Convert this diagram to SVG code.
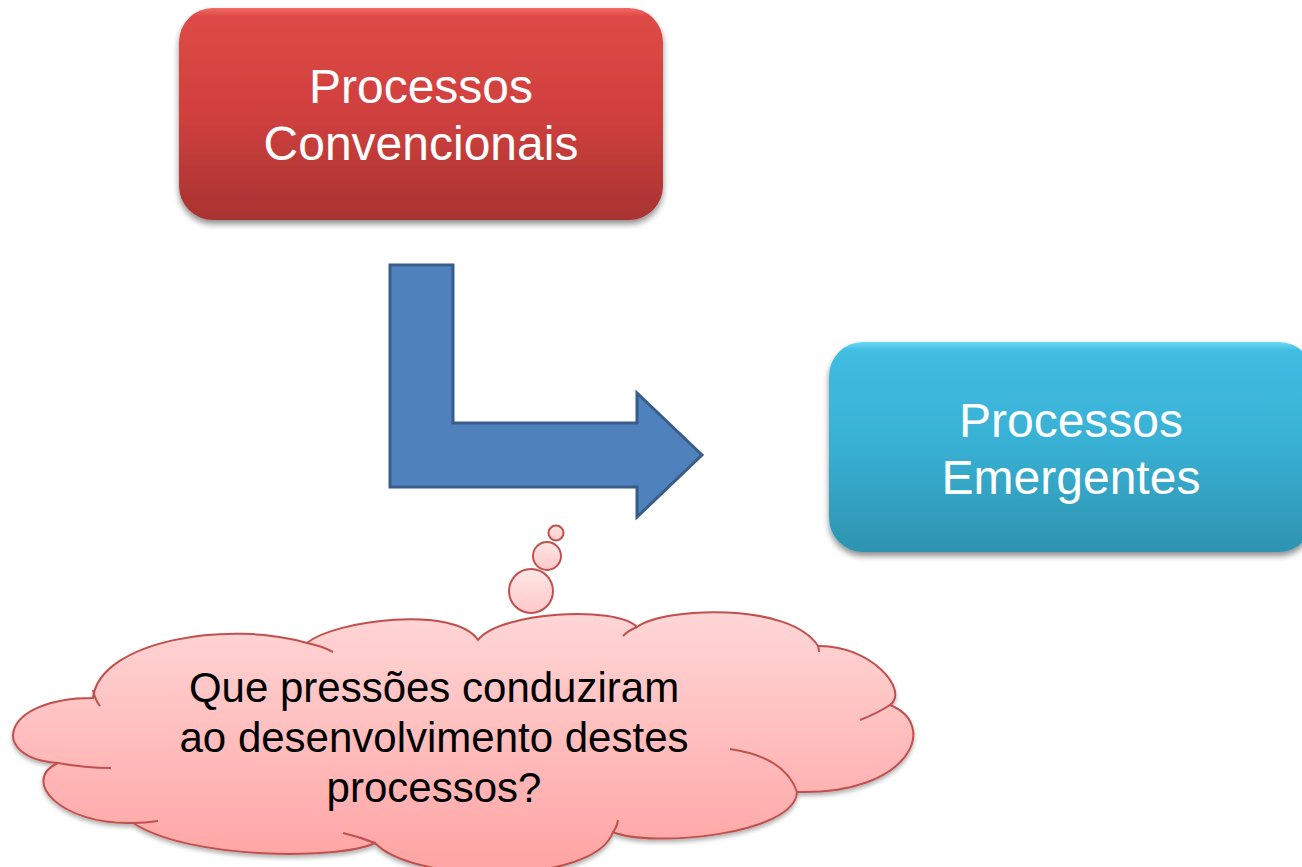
<svg xmlns="http://www.w3.org/2000/svg" width="1302" height="867" viewBox="0 0 1302 867">
<defs>
<linearGradient id="gRed" x1="0" y1="0" x2="0" y2="1">
<stop offset="0" stop-color="#f06a64"/>
<stop offset="0.04" stop-color="#de4a46"/>
<stop offset="0.5" stop-color="#d0403e"/>
<stop offset="1" stop-color="#a83331"/>
</linearGradient>
<linearGradient id="gCyan" x1="0" y1="0" x2="0" y2="1">
<stop offset="0" stop-color="#6ad8f5"/>
<stop offset="0.04" stop-color="#40bde2"/>
<stop offset="0.5" stop-color="#38b0d3"/>
<stop offset="1" stop-color="#2e93b0"/>
</linearGradient>
<linearGradient id="gPink" x1="0" y1="0" x2="0" y2="1">
<stop offset="0" stop-color="#ffd6d6"/>
<stop offset="1" stop-color="#ffa3a3"/>
</linearGradient>
<linearGradient id="gBub" x1="0" y1="0" x2="0" y2="1">
<stop offset="0" stop-color="#ffe6e6"/>
<stop offset="1" stop-color="#ffc8c8"/>
</linearGradient>
<filter id="sh" x="-10%" y="-10%" width="120%" height="130%">
<feGaussianBlur in="SourceAlpha" stdDeviation="3"/>
<feOffset dx="0" dy="4" result="b"/>
<feComponentTransfer><feFuncA type="linear" slope="0.45"/></feComponentTransfer>
<feMerge><feMergeNode/><feMergeNode in="SourceGraphic"/></feMerge>
</filter>
<filter id="sh2" x="-10%" y="-10%" width="120%" height="130%">
<feGaussianBlur in="SourceAlpha" stdDeviation="2"/>
<feOffset dx="0" dy="3" result="b"/>
<feComponentTransfer><feFuncA type="linear" slope="0.3"/></feComponentTransfer>
<feMerge><feMergeNode/><feMergeNode in="SourceGraphic"/></feMerge>
</filter>
</defs>
<style>
.box{font-family:"Liberation Sans",Arial,sans-serif;font-size:48px;fill:#ffffff;text-anchor:middle}
.ct{font-family:"Liberation Sans",Arial,sans-serif;font-size:42px;fill:#000000;text-anchor:middle}
.cl{stroke:#c0504d;stroke-width:2;fill:none}
</style>
<rect width="1302" height="867" fill="#ffffff"/>

<g id="convencionais">
<rect x="179" y="8" width="484" height="212" rx="34" fill="url(#gRed)" filter="url(#sh)"/>
<text class="box" x="421" y="103">Processos</text>
<text class="box" x="421" y="160">Convencionais</text>
</g>

<g id="emergentes">
<rect x="829" y="342" width="484" height="210" rx="34" fill="url(#gCyan)" filter="url(#sh)"/>
<text class="box" x="1071" y="437">Processos</text>
<text class="box" x="1071" y="494">Emergentes</text>
</g>

<g id="connectors">
<path d="M390,265 L453,265 L453,423 L637,423 L637,393 L702,455 L637,517 L637,487 L390,487 Z" fill="#4f81bd" stroke="#385d8a" stroke-width="3"/>
</g>

<g id="cloud">
<path filter="url(#sh2)" fill="url(#gPink)" stroke="#c0504d" stroke-width="2" d="M93,698 C100,640 230,620 307,643 C335,620 455,605 478,640 C500,612 615,605 637,627 C665,607 790,602 818,646 C870,645 910,690 890,705 C940,725 910,795 797,792 C795,835 650,848 613,832 C595,885 415,885 375,843 C340,860 190,860 133,823 C60,825 20,780 58,763 C-12,758 0,698 93,698 Z"/>
<path class="cl" d="M93,690 Q95,700 100,706"/>
<path class="cl" d="M307,643 Q322,646 333,652"/>
<path class="cl" d="M623,636 Q629,630 637,627"/>
<path class="cl" d="M818,646 Q819,649 819,652"/>
<path class="cl" d="M890,705 Q878,713 860,720"/>
<path class="cl" d="M730,749 Q785,757 797,792"/>
<path class="cl" d="M613,832 Q617,827 618,820"/>
<path class="cl" d="M343,833 Q360,837 375,843"/>
<path class="cl" d="M133,823 Q145,823 158,821"/>
<path class="cl" d="M58,763 Q85,768 111,768"/>
<circle cx="531" cy="591" r="22" fill="url(#gBub)" stroke="#c0504d" stroke-width="2"/>
<circle cx="547" cy="556" r="14" fill="url(#gBub)" stroke="#c0504d" stroke-width="2"/>
<circle cx="556" cy="533" r="7.5" fill="url(#gBub)" stroke="#c0504d" stroke-width="2"/>
<text class="ct" x="434" y="702">Que pressões conduziram</text>
<text class="ct" x="434" y="752">ao desenvolvimento destes</text>
<text class="ct" x="434" y="802">processos?</text>
</g>
</svg>
